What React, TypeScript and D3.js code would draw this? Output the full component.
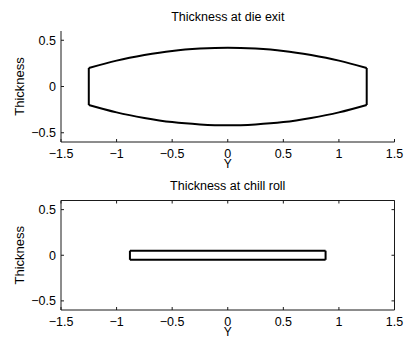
import * as d3 from 'd3';

// die exit profile: width position and half thickness (upper edge)
const dieY = [-1.25, -1.0, -0.75, -0.5, -0.25, 0, 0.25, 0.5, 0.75, 1.0, 1.25];
const dieHalf = [0.2, 0.28, 0.34, 0.385, 0.41, 0.42, 0.41, 0.385, 0.34, 0.28, 0.2];

// chill roll profile
const chillY = [-0.88, 0.88];
const chillHalf = [0.05, 0.05];

const xTicks = [-1.5, -1, -0.5, 0, 0.5, 1, 1.5];
const yTicks = [-0.5, 0, 0.5];

const W = 406;
const H = 339;
const FONT = "'Liberation Sans', Arial, Helvetica, sans-serif";

const fmt = (v: number) => (v < 0 ? `\u2212${Math.abs(v)}` : `${v}`);

interface PanelProps {
  top: number;
  bottom: number;
  title: string;
  ys: number[];
  half: number[];
  curved: boolean;
  box: boolean;
}

function Panel({ top, bottom, title, ys, half, curved, box }: PanelProps) {
  const left = 61;
  const right = 394.5;
  const x = d3.scaleLinear().domain([-1.5, 1.5]).range([left, right]);
  const y = d3.scaleLinear().domain([-0.6, 0.6]).range([bottom, top]);

  const pts = ys.map((v, i) => ({ v, h: half[i] }));
  const upper = d3
    .line<{ v: number; h: number }>()
    .x((d) => x(d.v))
    .y((d) => y(d.h))
    .curve(curved ? d3.curveCatmullRom : d3.curveLinear);
  const lower = d3
    .line<{ v: number; h: number }>()
    .x((d) => x(d.v))
    .y((d) => y(-d.h))
    .curve(curved ? d3.curveCatmullRom : d3.curveLinear);
  const first = pts[0];
  const last = pts[pts.length - 1];
  const edge = d3.line<[number, number]>();
  const axisColor = '#1a1a1a';
  const cx = (left + right) / 2;

  return (
    <g>
      <text x={cx} y={top - 10.5} textAnchor="middle" fontSize={12.5} fontFamily={FONT}>
        {title}
      </text>
      <path d={upper(pts) ?? ''} fill="none" stroke="#000" strokeWidth={2} />
      <path d={lower(pts) ?? ''} fill="none" stroke="#000" strokeWidth={2} />
      <path
        d={edge([[x(first.v), y(first.h)], [x(first.v), y(-first.h)]]) ?? ''}
        fill="none"
        stroke="#000"
        strokeWidth={2}
      />
      <path
        d={edge([[x(last.v), y(last.h)], [x(last.v), y(-last.h)]]) ?? ''}
        fill="none"
        stroke="#000"
        strokeWidth={2}
      />
      {/* axes */}
      <line x1={left} x2={left} y1={top} y2={bottom} stroke={axisColor} />
      <line x1={left} x2={right} y1={bottom} y2={bottom} stroke={axisColor} />
      {box && <line x1={left} x2={right} y1={top} y2={top} stroke={axisColor} />}
      {box && <line x1={right} x2={right} y1={top} y2={bottom} stroke={axisColor} />}
      {xTicks.map((t) => (
        <g key={`x${t}`}>
          <line x1={x(t)} x2={x(t)} y1={bottom} y2={bottom - 3} stroke={axisColor} />
          {box && <line x1={x(t)} x2={x(t)} y1={top} y2={top + 3} stroke={axisColor} />}
          <text x={x(t)} y={bottom + 15.5} textAnchor="middle" fontSize={12.5} fontFamily={FONT}>
            {fmt(t)}
          </text>
        </g>
      ))}
      {yTicks.map((t) => (
        <g key={`y${t}`}>
          <line x1={left} x2={left + 3} y1={y(t)} y2={y(t)} stroke={axisColor} />
          {box && <line x1={right} x2={right - 3} y1={y(t)} y2={y(t)} stroke={axisColor} />}
          <text x={56} y={y(t) + 4.5} textAnchor="end" fontSize={12.5} fontFamily={FONT}>
            {fmt(t)}
          </text>
        </g>
      ))}
      <text x={cx} y={bottom + 26.3} textAnchor="middle" fontSize={12} fontFamily={FONT}>
        Y
      </text>
      <text
        transform={`translate(23.5,${(top + bottom) / 2}) rotate(-90)`}
        textAnchor="middle"
        fontSize={13}
        fontFamily={FONT}
      >
        Thickness
      </text>
    </g>
  );
}

export default function App() {
  return (
    <svg
      width={W}
      height={H}
      style={{ position: 'absolute', left: 0, top: 0, background: '#fff' }}
    >
      <rect width={W} height={H} fill="#fff" />
      <Panel
        top={31}
        bottom={142}
        title="Thickness at die exit"
        ys={dieY}
        half={dieHalf}
        curved
        box={false}
      />
      <Panel
        top={200.5}
        bottom={310}
        title="Thickness at chill roll"
        ys={chillY}
        half={chillHalf}
        curved={false}
        box
      />
    </svg>
  );
}
